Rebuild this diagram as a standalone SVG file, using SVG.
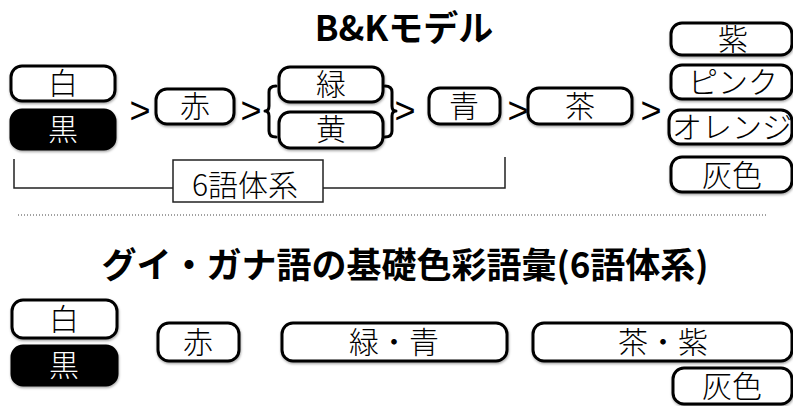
<svg xmlns="http://www.w3.org/2000/svg" width="793" height="406" viewBox="0 0 793 406">
<defs>
<filter id="sh" x="-10%" y="-20%" width="120%" height="150%">
<feDropShadow dx="0.5" dy="1.5" stdDeviation="1.2" flood-color="#000" flood-opacity="0.35"/>
</filter>
<style>
.box{fill:#fff;stroke:#000;stroke-width:3;filter:url(#sh)}
.blk{fill:#000;stroke:#000;stroke-width:3;filter:url(#sh)}
.lbl{font-family:"Noto Sans CJK JP","Noto Sans",sans-serif;font-weight:300;font-size:30px;text-anchor:middle;fill:#000}
.wlbl{fill:#fff}
.gt{font-family:"Liberation Sans","Noto Sans CJK JP",sans-serif;font-size:36px;text-anchor:middle;fill:#000}
.title{font-family:"Noto Sans CJK JP","Noto Sans",sans-serif;font-weight:bold;text-anchor:middle;fill:#000}
.brace{fill:none;stroke:#000;stroke-width:3;stroke-linejoin:round;stroke-linecap:round}
.line{fill:none;stroke:#222;stroke-width:1.5}
</style>
</defs>

<text class="title" x="404" y="41" font-size="35">B&amp;Kモデル</text>

<g id="top-shiro"><rect class="box" x="11" y="66" width="104" height="35" rx="11"/><text class="lbl" x="63" y="94">白</text></g>
<g id="top-kuro"><rect class="blk" x="11" y="110" width="104" height="39" rx="11"/><text class="lbl wlbl" x="63" y="140">黒</text></g>
<g id="top-aka"><rect class="box" x="156" y="89" width="78" height="35" rx="11"/><text class="lbl" x="195" y="117">赤</text></g>
<g id="top-midori"><rect class="box" x="279" y="67" width="104" height="35" rx="11"/><text class="lbl" x="331" y="95">緑</text></g>
<g id="top-ki"><rect class="box" x="279" y="112" width="104" height="36" rx="11"/><text class="lbl" x="331" y="140">黄</text></g>
<g id="top-ao"><rect class="box" x="429" y="88" width="71" height="36" rx="11"/><text class="lbl" x="464" y="117">青</text></g>
<g id="top-cha"><rect class="box" x="528" y="88" width="104" height="36" rx="11"/><text class="lbl" x="580" y="117">茶</text></g>
<g id="top-murasaki"><rect class="box" x="671" y="23" width="121" height="32" rx="11"/><text class="lbl" x="733" y="50">紫</text></g>
<g id="top-pink"><rect class="box" x="671" y="65" width="121" height="34" rx="11"/><text class="lbl" x="733" y="93">ピンク</text></g>
<g id="top-orange"><rect class="box" x="669" y="110" width="123" height="34" rx="11"/><text class="lbl" x="732" y="138">オレンジ</text></g>
<g id="top-hai"><rect class="box" x="671" y="157" width="121" height="35" rx="11"/><text class="lbl" x="732" y="186">灰色</text></g>

<g id="connectors">
<text class="gt" x="140" y="123">&gt;</text>
<text class="gt" x="251" y="123">&gt;</text>
<text class="gt" x="405" y="123">&gt;</text>
<text class="gt" x="518" y="123">&gt;</text>
<text class="gt" x="651" y="123">&gt;</text>
<path class="brace" d="M276,86 Q269,86 269,92 L269,106 Q269,111 265,111 Q269,111 269,116 L269,131 Q269,137 276,137"/>
<path class="brace" d="M385,86 Q392,86 392,92 L392,106 Q392,111 396,111 Q392,111 392,116 L392,131 Q392,137 385,137"/>
<polyline class="line" points="14,159 14,188 173,188"/>
<polyline class="line" points="323,188 505,188 505,157"/>
</g>

<g id="six-term"><rect x="173" y="160" width="150" height="42" fill="#fff" stroke="#222" stroke-width="1.5"/><text class="lbl" x="245" y="196" font-size="34">6語体系</text></g>

<line x1="18" y1="215" x2="767" y2="215" stroke="#444" stroke-width="1" stroke-dasharray="1,2"/>

<text class="title" x="405" y="278" font-size="35">グイ・ガナ語の基礎色彩語彙(6語体系)</text>

<g id="bot-shiro"><rect class="box" x="12" y="300" width="105" height="38" rx="11"/><text class="lbl" x="64" y="330">白</text></g>
<g id="bot-kuro"><rect class="blk" x="12" y="346" width="105" height="39" rx="11"/><text class="lbl wlbl" x="64" y="376">黒</text></g>
<g id="bot-aka"><rect class="box" x="158" y="323" width="81" height="38" rx="11"/><text class="lbl" x="198" y="353">赤</text></g>
<g id="bot-midori-ao"><rect class="box" x="282" y="323" width="225" height="38" rx="11"/><text class="lbl" x="394" y="353">緑・青</text></g>
<g id="bot-cha-murasaki"><rect class="box" x="533" y="323" width="259" height="38" rx="11"/><text class="lbl" x="663" y="353">茶・紫</text></g>
<g id="bot-hai"><rect class="box" x="673" y="368" width="119" height="36" rx="11"/><text class="lbl" x="732" y="397">灰色</text></g>
</svg>
